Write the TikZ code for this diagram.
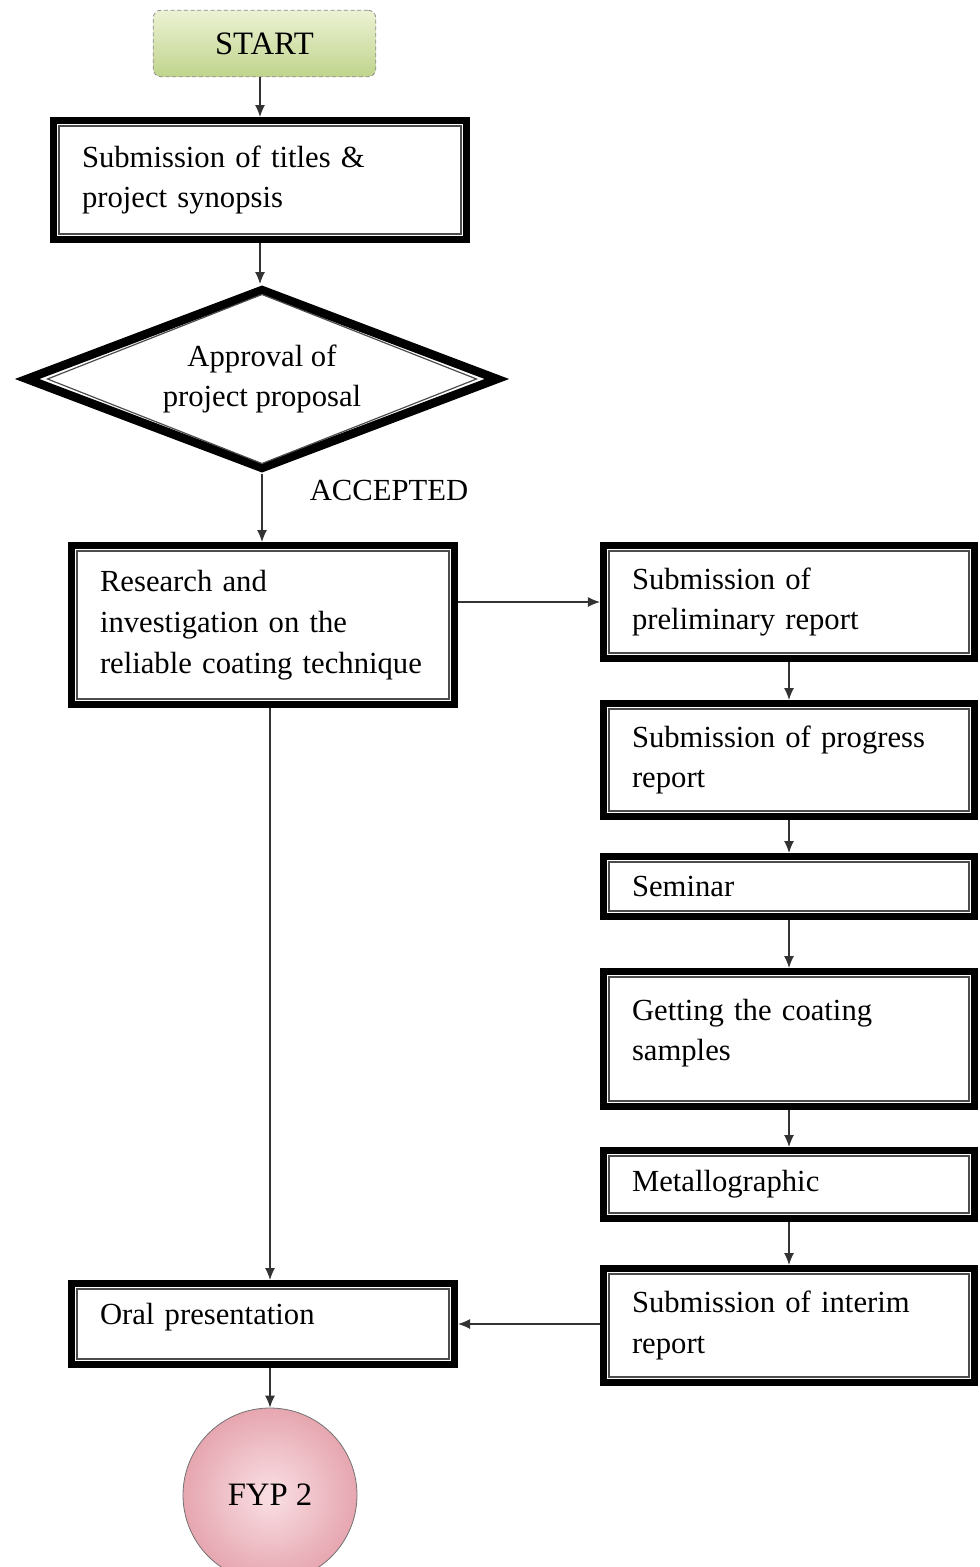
\documentclass[tikz,border=0pt]{standalone}
\usepackage{fontspec}
\setmainfont{Liberation Serif}
\usetikzlibrary{shapes.geometric,arrows.meta,calc}
\definecolor{startgreen}{RGB}{192,212,140}
\definecolor{startlight}{RGB}{236,242,212}
\definecolor{fyppink}{RGB}{230,166,176}
\definecolor{fyplight}{RGB}{249,224,228}
\tikzset{
  stepbox/.style={draw, line width=5.25pt, fill=white, align=left, inner xsep=21.4pt, inner ysep=0pt},
  decision/.style={diamond, draw, line width=6.5pt, fill=white, align=center, inner sep=0pt, aspect=2.59},
  flow/.style={draw=black!80, line width=0.9pt, -{Latex[length=9pt,width=7.5pt]}},
  inframe/.style={draw=black!70, line width=0.9pt}
}
\begin{document}
\begin{tikzpicture}[x=0.75pt,y=0.75pt,yscale=-1,xscale=1,font=\fontsize{23}{30.5}\selectfont]
\useasboundingbox (0,0) rectangle (979,1567);
\node [rounded corners=6pt, draw=black!45, densely dashed, line width=0.6pt, top color=startlight, bottom color=startgreen, minimum width=167pt, minimum height=50pt, font=\fontsize{24.5}{30}\selectfont] (start) at (264.5,43.5) {START};
\node [stepbox, text width=267pt, minimum height=89.25pt] (titles) at (260,180) {Submission of titles \&\\project synopsis};
\node [decision, minimum width=355pt, minimum height=136pt] (approval) at (262,379) {Approval of\\project proposal};
\node (accepted) at (389,490) {ACCEPTED};
\node [stepbox, text width=244.5pt, minimum height=119.25pt] (research) at (263,625) {Research and\\investigation on the\\reliable coating technique};
\node [stepbox, text width=235.5pt, minimum height=84.75pt] (prelim) at (789,602) {Submission of\\preliminary report};
\node [stepbox, text width=235.5pt, minimum height=84.75pt] (progress) at (789,760) {Submission of progress\\report};
\node [stepbox, text width=235.5pt, minimum height=45pt] (seminar) at (789,886.5) {Seminar};
\node [stepbox, text width=235.5pt, minimum height=101.25pt, text depth=44pt] (coating) at (789,1039) {Getting the coating\\samples};
\node [stepbox, text width=235.5pt, minimum height=51pt] (metallo) at (789,1184.5) {Metallographic};
\node [stepbox, text width=235.5pt, minimum height=85.5pt] (interim) at (789,1325.5) {Submission of interim\\report};
\node [stepbox, text width=244.5pt, minimum height=60.75pt, text depth=15.5pt] (oral) at (263,1324) {Oral presentation};
\node [circle, draw=black!55, line width=0.6pt, inner color=fyplight, outer color=fyppink, minimum size=130.5pt, font=\fontsize{24.5}{30}\selectfont] (fyp) at (270,1495) {FYP 2};
\foreach \n in {titles,research,prelim,progress,seminar,coating,metallo,interim,oral}
  \draw [inframe] ([shift={(9,9)}]\n.north west) rectangle ([shift={(-9,-9)}]\n.south east);
\draw [inframe] ($(approval.center)!0.89!(approval.north)$) -- ($(approval.center)!0.89!(approval.east)$) -- ($(approval.center)!0.89!(approval.south)$) -- ($(approval.center)!0.89!(approval.west)$) -- cycle;
\draw [flow] (titles.north |- start.south) -- (titles.north);
\draw [flow] (titles.south) -- (titles.south |- approval.north);
\draw [flow] (approval.south) -- (approval.south |- research.north);
\draw [flow] (research.east |- prelim.west) -- (prelim.west);
\draw [flow] (prelim) -- (progress);
\draw [flow] (progress) -- (seminar);
\draw [flow] (seminar) -- (coating);
\draw [flow] (coating) -- (metallo);
\draw [flow] (metallo) -- (interim);
\draw [flow] (research.south -| fyp.north) -- (oral.north -| fyp.north);
\draw [flow] (interim.west |- oral.east) -- (oral.east);
\draw [flow] (oral.south -| fyp.north) -- (fyp.north);
\end{tikzpicture}
\end{document}
